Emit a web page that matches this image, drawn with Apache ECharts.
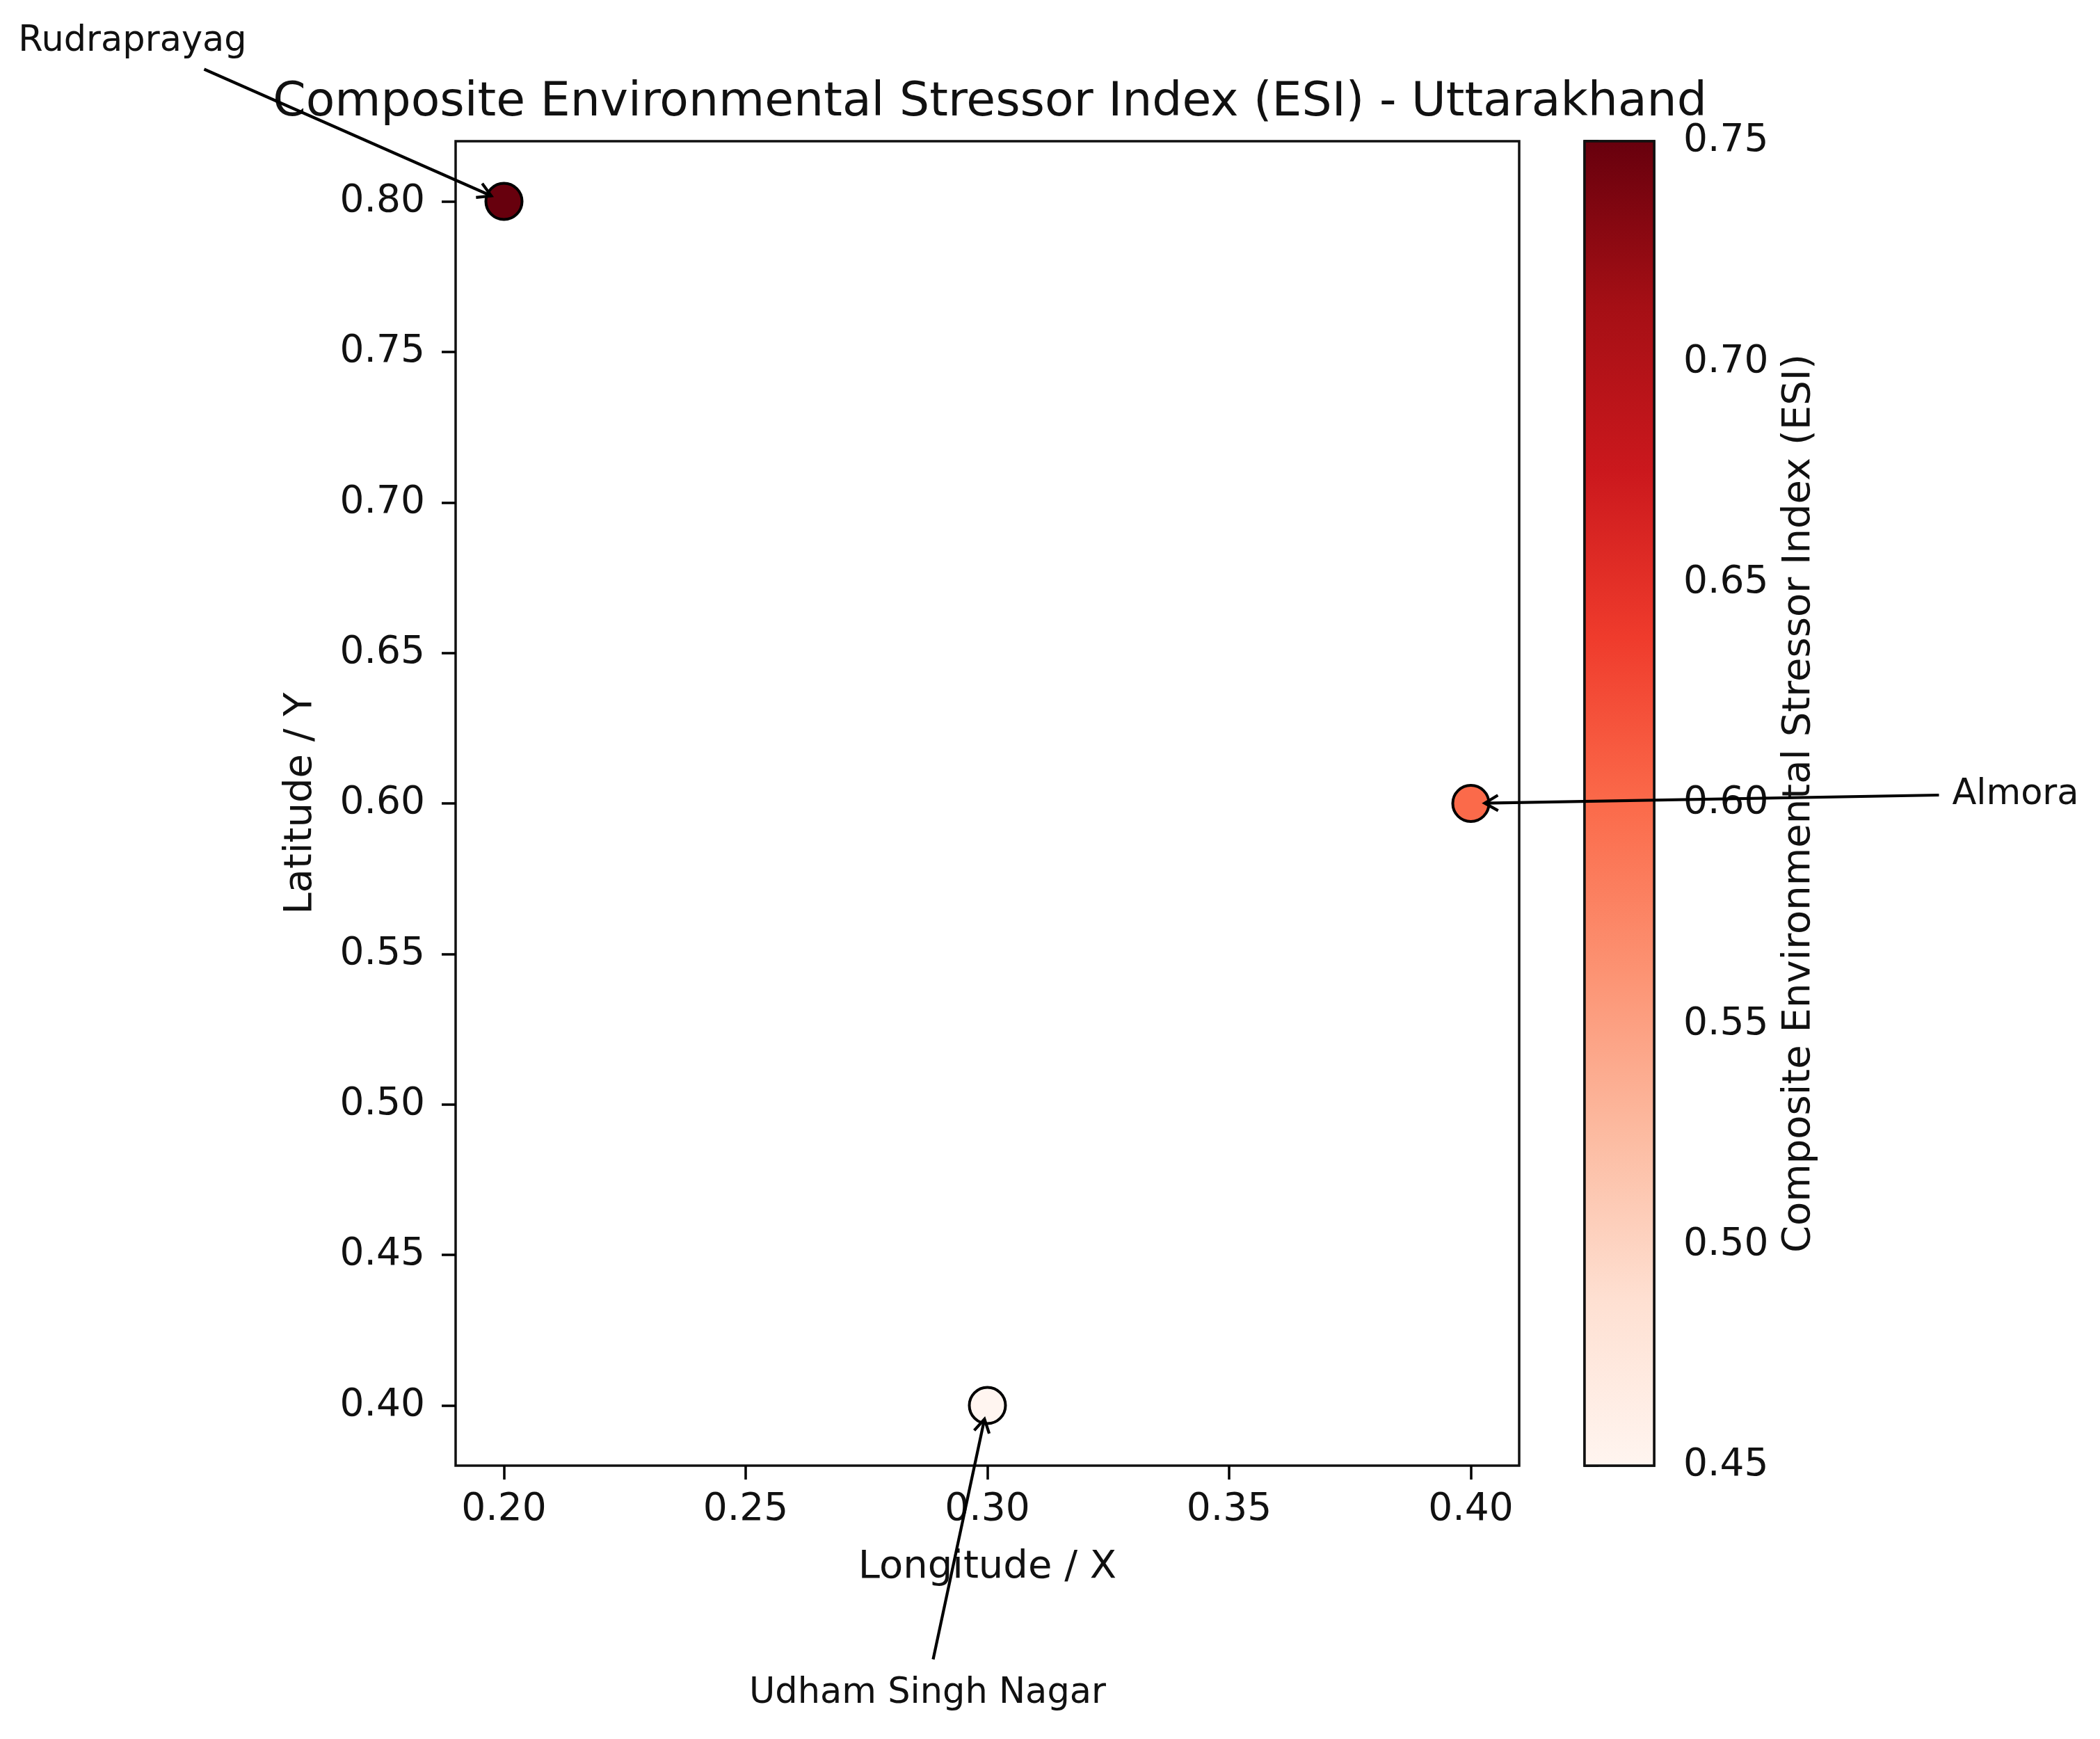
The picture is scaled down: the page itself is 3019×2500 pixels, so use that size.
<!DOCTYPE html>
<html>
<head>
<meta charset="utf-8">
<script src="https://cdn.jsdelivr.net/npm/echarts@6/dist/echarts.min.js"></script>
<style>
html,body{margin:0;padding:0;background:#fff;}
#chart{width:3019px;height:2500px;}
</style>
</head>
<body>
<div id="chart"></div>
<script>
// ---- data ----
const districts = ['Rudraprayag', 'Almora', 'Udham Singh Nagar'];
const longitudes = [0.20, 0.40, 0.30];
const latitudes = [0.80, 0.60, 0.40];
const esiValues = [0.75, 0.60, 0.45];
const xTicks = [0.20, 0.25, 0.30, 0.35, 0.40];
const yTicks = [0.40, 0.45, 0.50, 0.55, 0.60, 0.65, 0.70, 0.75, 0.80];
const cbTicks = [0.45, 0.50, 0.55, 0.60, 0.65, 0.70, 0.75];
const xRange = [0.19, 0.41];
const yRange = [0.38, 0.82];
const cbRange = [0.45, 0.75];

// ---- styles ----
const FONT = 'DejaVu Sans';
const reds = ['#fff5f0', '#fee0d2', '#fcbba1', '#fc9272', '#fb6a4a', '#ef3b2c', '#cb181d', '#a50f15', '#67000d'];
// annotation offsets (pixels, relative to point centre)
const annotStyle = {
  'Rudraprayag': { text: [-534, -230], start: [-431, -190] },
  'Almora': { text: [783, -12], start: [673, -12] },
  'Udham Singh Nagar': { text: [-86, 414], start: [-78, 365] }
};

const scatterData = districts.map((d, i) => [longitudes[i], latitudes[i], esiValues[i], d]);

const chart = echarts.init(document.getElementById('chart'), null, { renderer: 'canvas' });

const axisCommon = {
  axisLine: { show: false },
  splitLine: { show: false },
  axisTick: { show: true, inside: false, length: 20, lineStyle: { color: '#000', width: 3.5 } },
  axisLabel: { color: '#111', fontFamily: FONT, fontSize: 55 },
  nameTextStyle: { color: '#111', fontFamily: FONT, fontSize: 56 }
};

const option = {
  backgroundColor: '#fff',
  animation: false,
  title: {
    text: 'Composite Environmental Stressor Index (ESI) - Uttarakhand',
    left: 1418,
    top: 109,
    textAlign: 'center',
    textStyle: { color: '#111', fontFamily: FONT, fontSize: 68, fontWeight: 'normal' }
  },
  grid: [
    { left: 655, top: 203, width: 1529, height: 1904, show: true, borderColor: '#111', borderWidth: 3.5, backgroundColor: 'transparent' },
    { left: 2278, top: 203, width: 100, height: 1904, show: true, borderColor: '#111', borderWidth: 3.5, backgroundColor: 'transparent' }
  ],
  xAxis: [
    Object.assign({}, axisCommon, {
      type: 'value', gridIndex: 0, min: xRange[0], max: xRange[1],
      name: 'Longitude / X', nameLocation: 'middle', nameGap: 118,
      axisTick: Object.assign({}, axisCommon.axisTick, { customValues: xTicks }),
      axisLabel: Object.assign({}, axisCommon.axisLabel, { customValues: xTicks, margin: 36, formatter: v => v.toFixed(2) })
    }),
    { type: 'value', gridIndex: 1, min: 0, max: 1, show: false }
  ],
  yAxis: [
    Object.assign({}, axisCommon, {
      type: 'value', gridIndex: 0, min: yRange[0], max: yRange[1],
      name: 'Latitude / Y', nameLocation: 'middle', nameGap: 195, nameRotate: 90,
      axisTick: Object.assign({}, axisCommon.axisTick, { customValues: yTicks }),
      axisLabel: Object.assign({}, axisCommon.axisLabel, { customValues: yTicks, margin: 44, formatter: v => v.toFixed(2) })
    }),
    Object.assign({}, axisCommon, {
      type: 'value', gridIndex: 1, position: 'right', min: cbRange[0], max: cbRange[1],
      name: 'Composite Environmental Stressor Index (ESI)', nameLocation: 'middle', nameGap: 180, nameRotate: 90,
      axisTick: Object.assign({}, axisCommon.axisTick, { customValues: cbTicks }),
      axisLabel: Object.assign({}, axisCommon.axisLabel, { customValues: cbTicks, margin: 42, formatter: v => v.toFixed(2) })
    })
  ],
  visualMap: {
    type: 'continuous', show: false, seriesIndex: 0, dimension: 2,
    min: cbRange[0], max: cbRange[1],
    inRange: { color: reds }
  },
  series: [
    {
      type: 'scatter', xAxisIndex: 0, yAxisIndex: 0,
      symbol: 'circle', symbolSize: 52,
      itemStyle: { borderColor: '#000', borderWidth: 4, opacity: 1 },
      data: scatterData, z: 3
    },
    {
      type: 'custom', xAxisIndex: 1, yAxisIndex: 1,
      data: [[cbRange[0], cbRange[1]]],
      renderItem: function (params, api) {
        const p0 = api.coord([0, api.value(0)]);
        const p1 = api.coord([1, api.value(1)]);
        return {
          type: 'rect',
          shape: { x: p0[0], y: p1[1], width: p1[0] - p0[0], height: p0[1] - p1[1] },
          style: {
            fill: new echarts.graphic.LinearGradient(0, 1, 0, 0,
              reds.map((c, i) => ({ offset: i / (reds.length - 1), color: c }))),
            stroke: '#111', lineWidth: 3.5
          }
        };
      }
    }
  ]
};

chart.setOption(option);

// ---- annotations (arrows + labels) ----
const graphics = [];
districts.forEach((d, i) => {
  const c = chart.convertToPixel({ gridIndex: 0 }, [longitudes[i], latitudes[i]]);
  const st = annotStyle[d];
  const sx = c[0] + st.start[0], sy = c[1] + st.start[1];
  const dx = c[0] - sx, dy = c[1] - sy;
  const len = Math.sqrt(dx * dx + dy * dy);
  const ux = dx / len, uy = dy / len;
  const tx = c[0] - ux * 20, ty = c[1] - uy * 20;
  const hl = 22, ang = Math.PI / 6;
  const bx = -ux, by = -uy;
  const w1 = [tx + hl * (bx * Math.cos(ang) - by * Math.sin(ang)), ty + hl * (bx * Math.sin(ang) + by * Math.cos(ang))];
  const w2 = [tx + hl * (bx * Math.cos(-ang) - by * Math.sin(-ang)), ty + hl * (bx * Math.sin(-ang) + by * Math.cos(-ang))];
  graphics.push({
    type: 'line', z: 100,
    shape: { x1: sx, y1: sy, x2: tx, y2: ty },
    style: { stroke: '#000', lineWidth: 4.2 }
  });
  graphics.push({
    type: 'polyline', z: 100,
    shape: { points: [w1, [tx, ty], w2] },
    style: { stroke: '#000', lineWidth: 4.2, fill: null }
  });
  graphics.push({
    type: 'text', z: 100,
    x: c[0] + st.text[0], y: c[1] + st.text[1],
    style: { text: d, fill: '#111', font: '51px "' + FONT + '"', align: 'center', verticalAlign: 'middle' }
  });
});
chart.setOption({ graphic: graphics });
</script>
</body>
</html>
